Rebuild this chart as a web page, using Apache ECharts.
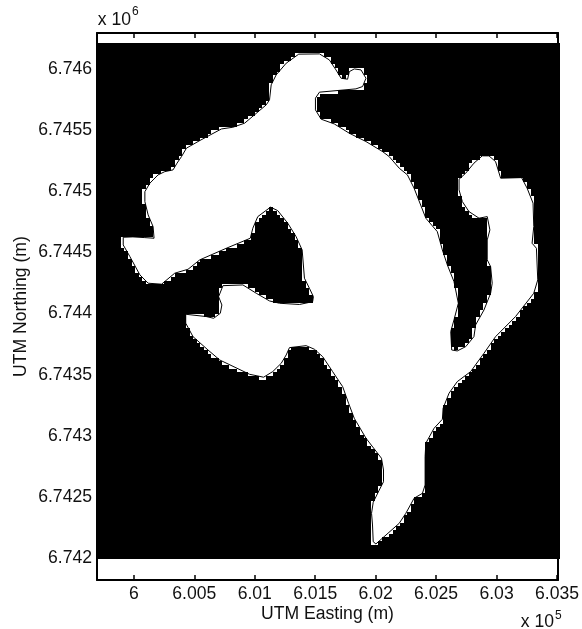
<!DOCTYPE html>
<html><head><meta charset="utf-8">
<style>html,body{margin:0;padding:0;background:#fff}#c{width:582px;height:629px}</style>
<script src="https://cdn.jsdelivr.net/npm/echarts@6/dist/echarts.min.js"></script>
</head><body><div id="c"></div>
<script>
const eastBase = 600000;
const northBase = 6742000;
// Lake shoreline, metres from the base easting / northing
const eastOffsets = [-88,-8,91,167,159,118,91,91,132,200,256,324,357,394,435,545,724,819,916,1095,1122,1136,1177,1260,1364,1535,1617,1672,1714,1768,1782,1823,1879,1920,1892,1837,1535,1502,1502,1549,1658,1782,1920,2057,2112,2195,2263,2318,2415,2469,2510,2552,2593,2648,2684,2648,2621,2629,2675,2745,2813,2827,2896,2951,2964,2951,2923,2923,2945,2923,2855,2772,2717,2690,2690,2745,2813,2882,2937,2992,3034,3207,3253,3302,3308,3294,3330,3341,3308,3157,2992,2896,2786,2675,2607,2558,2552,2483,2415,2409,2409,2387,2318,2250,2195,2002,1980,1974,1966,1980,2030,2065,2065,2048,1920,1823,1776,1727,1644,1562,1493,1425,1287,1260,1219,1149,1073,957,710,613,489,429,429,600,660,715,728,701,737,902,1012,1122,1205,1370,1479,1485,1452,1411,1392,1342,1273,1190,1130,1025,984,963,765,545,448,338,229,118,50,-33,-88,-88];
const northOffsets = [2624,2627,2621,2616,2711,2807,2916,2997,3066,3134,3161,3175,3230,3284,3353,3415,3510,3524,3557,3707,3748,3871,3952,4048,4122,4124,4075,3993,3925,3917,3979,4001,3993,3925,3857,3838,3811,3762,3666,3590,3551,3475,3407,3325,3284,3189,3134,3025,2780,2717,2670,2520,2398,2261,2084,1948,1852,1702,1694,1729,1811,1907,2029,2166,2248,2384,2439,2602,2684,2793,2780,2834,2916,3011,3099,3148,3230,3290,3290,3243,3107,3112,3025,2903,2711,2575,2534,2275,2166,1975,1811,1675,1525,1443,1348,1225,1135,1061,939,829,597,529,489,366,284,115,133,270,366,456,556,624,720,816,980,1143,1266,1402,1525,1647,1708,1737,1721,1661,1593,1525,1479,1503,1620,1702,1811,1921,1994,1975,1961,2002,2070,2138,2228,2234,2166,2103,2084,2074,2097,2138,2207,2289,2520,2629,2739,2842,2870,2793,2698,2616,2534,2439,2362,2330,2240,2248,2316,2466,2561,2624];
const xTicks = [600000,600500,601000,601500,602000,602500,603000,603500];
const xTickLabels = ['6','6.005','6.01','6.015','6.02','6.025','6.03','6.035'];
const yTicks = [6742000,6742500,6743000,6743500,6744000,6744500,6745000,6745500,6746000];
const yTickLabels = ['6.742','6.7425','6.743','6.7435','6.744','6.7445','6.745','6.7455','6.746'];
const xName = 'UTM Easting (m)';
const yName = 'UTM Northing (m)';
const xRange = [599695, 603508];
const yRange = [6741820, 6746295];
const maskEast = [599695, 603525];
const maskNorth = [6741994, 6746214];
const gridEast = 599681;
const gridNorth = 6741990;
const cellSize = 30;
const reach = 8;

const FONT = 'Liberation Sans';
const FS = 17.6;
const shore = eastOffsets.map((e, i) => [eastBase + e, northBase + northOffsets[i]]);

function inside(x, y) {
  let r = false;
  for (let i = 0, j = shore.length - 1; i < shore.length; j = i++) {
    const a = shore[i], b = shore[j];
    if ((a[1] > y) !== (b[1] > y) && x < (b[0] - a[0]) * (y - a[1]) / (b[1] - a[1]) + a[0]) r = !r;
  }
  return r;
}
function water(e, n) {
  const cx = e + cellSize / 2, cy = n + cellSize / 2;
  return inside(cx, cy) || inside(cx - reach, cy - reach) || inside(cx + reach, cy - reach)
    || inside(cx - reach, cy + reach) || inside(cx + reach, cy + reach);
}
// The gridded lake mask: one [fromEast, toEast, rowSouth, rowNorth] per run of water cells
const waterRuns = [];
for (let n = gridNorth; n < maskNorth[1]; n += cellSize) {
  let start = null;
  for (let e = gridEast; e <= maskEast[1]; e += cellSize) {
    const w = water(e, n);
    if (w && start === null) start = e;
    if (!w && start !== null) { waterRuns.push([start, e, n, n + cellSize]); start = null; }
  }
}
const chart = echarts.init(document.getElementById('c'), null, { renderer: 'canvas' });
const rectItem = (fill) => (params, api) => {
  const p0 = api.coord([api.value(0), api.value(3)]);
  const p1 = api.coord([api.value(1), api.value(2)]);
  const x = Math.round(p0[0]), y = Math.round(p0[1]);
  return { type: 'rect', shape: { x, y, width: Math.round(p1[0]) - x, height: Math.round(p1[1]) - y }, style: { fill } };
};
const frame = { show: true, onZero: false, lineStyle: { color: '#000', width: 2 } };
const tick = { show: true, inside: true, length: 5, lineStyle: { color: '#000', width: 1.5 } };
const lbl = { fontFamily: FONT, fontSize: FS, color: '#111' };
const txt = (text, x, y, size) => ({ type: 'text', x, y, silent: true,
  style: { text, fontFamily: FONT, fontSize: size, fill: '#111', textVerticalAlign: 'middle', textAlign: 'left' } });
chart.setOption({
  animation: false,
  backgroundColor: '#fff',
  grid: { left: 97, right: 23, top: 33, bottom: 49 },
  xAxis: [
    { type: 'value', min: xRange[0], max: xRange[1], position: 'bottom', splitLine: { show: false }, axisLine: frame,
      axisTick: Object.assign({ customValues: xTicks }, tick),
      axisLabel: Object.assign({ customValues: xTicks, margin: 5.5, hideOverlap: false, formatter: v => xTickLabels[xTicks.indexOf(v)] }, lbl),
      name: xName, nameLocation: 'middle', nameGap: 25.5, nameMoveOverlap: false, nameTextStyle: lbl },
    { type: 'value', min: xRange[0], max: xRange[1], position: 'top', splitLine: { show: false }, axisLine: frame,
      axisTick: Object.assign({ customValues: xTicks }, tick), axisLabel: { show: false } }
  ],
  yAxis: [
    { type: 'value', min: yRange[0], max: yRange[1], position: 'left', splitLine: { show: false }, axisLine: frame,
      axisTick: Object.assign({ customValues: yTicks }, tick),
      axisLabel: Object.assign({ customValues: yTicks, margin: 5, formatter: v => yTickLabels[yTicks.indexOf(v)] }, lbl),
      name: yName, nameLocation: 'middle', nameGap: 67, nameMoveOverlap: false, nameTextStyle: lbl },
    { type: 'value', min: yRange[0], max: yRange[1], position: 'right', splitLine: { show: false }, axisLine: frame,
      axisTick: Object.assign({ customValues: yTicks }, tick), axisLabel: { show: false } }
  ],
  series: [
    { type: 'custom', silent: true, clip: false, z: 2, data: [[maskEast[0], maskEast[1], maskNorth[0], maskNorth[1]]], renderItem: rectItem('#000') },
    { type: 'custom', silent: true, clip: true, z: 3, data: waterRuns, renderItem: rectItem('#fff') },
    { type: 'line', silent: true, z: 4, data: shore, showSymbol: false, smooth: false, lineStyle: { color: '#000', width: 1 } }
  ],
  graphic: [
    txt('x 10', 97.7, 20.5, FS), txt('6', 132, 12, 12),
    txt('x 10', 520.7, 622, FS), txt('5', 555, 615.5, 12)
  ]
});
</script></body></html>
